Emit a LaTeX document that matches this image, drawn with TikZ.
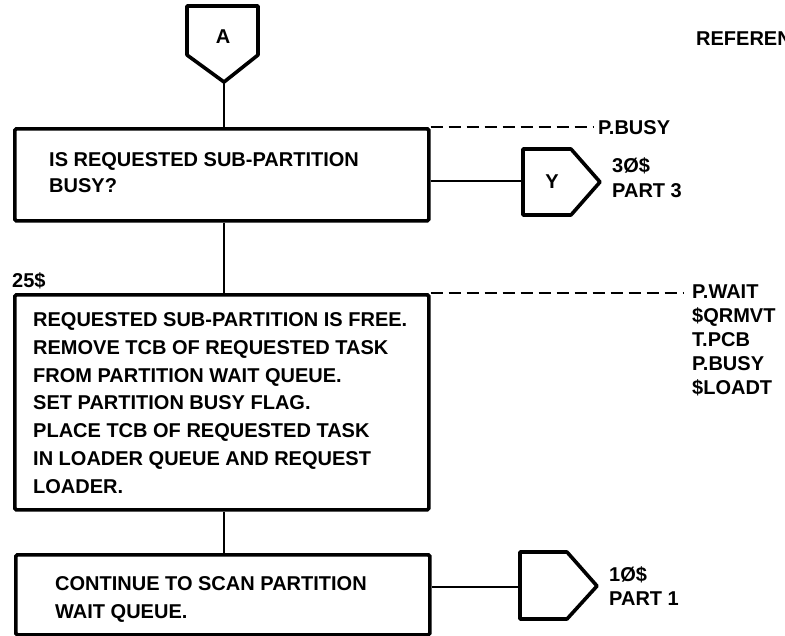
\documentclass[tikz,border=0pt]{standalone}
\usepackage{fontspec}
\setmainfont{Liberation Sans}
\begin{document}
\begin{tikzpicture}[x=1pt,y=-1pt]
\tikzset{
  procbox/.style={draw, line width=3.6pt, rounded corners=1.5pt, inner sep=0pt, anchor=north west},
  flow/.style={line width=2.6pt},
  refline/.style={line width=2.4pt, dash pattern=on 12pt off 6pt},
  offpage/.style={line width=3.6pt, line join=round},
  % multi-line texts are placed by the baseline of their last line
  txt/.style={font=\fontsize{20}{27.7}\selectfont\bfseries, inner sep=0pt, anchor=base west, align=left},
  reflist/.style={txt, font=\fontsize{20}{24}\selectfont\bfseries},
  letter/.style={font=\fontsize{20}{24}\selectfont\bfseries, inner sep=0pt}
}
\useasboundingbox (0,0) rectangle (785,635);
\clip (0,0) rectangle (785,635);

% heading at the top right
\node[txt] (refhead) at (696,45) {REFERENCES};

% off-page entry connector A
\coordinate (Atip) at (224,82);
\draw[offpage] (187,6) -- (258,6) -- (258,55) -- (Atip) -- (187,55) -- cycle;
\node[letter] (A) at (223,37) {A};

% process boxes
\node[procbox, minimum width=414pt, minimum height=92pt] (b1) at (13,127) {};
\node[procbox, minimum width=414pt, minimum height=215pt] (b2) at (13,293) {};
\node[procbox, minimum width=414pt, minimum height=80pt] (b3) at (14,553) {};

\node[txt, font=\fontsize{20}{26}\selectfont\bfseries] (t1) at (49,192) {IS REQUESTED SUB-PARTITION\\BUSY?};
\node[txt] (t2) at (33,493) {REQUESTED SUB-PARTITION IS FREE.\\REMOVE TCB OF REQUESTED TASK\\FROM PARTITION WAIT QUEUE.\\SET PARTITION BUSY FLAG.\\PLACE TCB OF REQUESTED TASK\\IN LOADER QUEUE AND REQUEST\\LOADER.};
\node[txt, font=\fontsize{20}{28}\selectfont\bfseries] (t3) at (55,618) {CONTINUE TO SCAN PARTITION\\WAIT QUEUE.};
\node[txt] (lab25) at (12,287) {25\$};

% main flow line
\draw[flow] (Atip) -- (Atip |- b1.north);
\draw[flow] (Atip |- b1.south) -- (Atip |- b2.north);
\draw[flow] (Atip |- b2.south) -- (Atip |- b3.north);

% exit connector Y
\coordinate (Yin) at (523,181);
\draw[offpage] (523,149) -- (571,149) -- (600,182) -- (571,215) -- (523,215) -- cycle;
\node[letter] (Y) at (552,182) {Y};
\draw[flow] (Yin -| b1.east) -- (Yin);
\node[txt, font=\fontsize{20}{25}\selectfont\bfseries] (lab30) at (612,197) {3Ø\$\\PART 3};

% exit connector to part 1
\coordinate (Cin) at (520,587);
\draw[offpage] (520,552) -- (567,552) -- (597,586) -- (567,619) -- (520,619) -- cycle;
\draw[flow] (Cin -| b3.east) -- (Cin);
\node[txt, font=\fontsize{20}{24}\selectfont\bfseries] (lab10) at (609,605) {1Ø\$\\PART 1};

% reference lists
\node[txt] (pbusy) at (598,134) {P.BUSY};
\draw[refline] (b1.north east) -- ([xshift=-5pt]b1.north east -| pbusy.west);
\coordinate (wref) at (683,293);
\draw[refline] (b2.north east) -- (wref);
\node[reflist] (refs) at (692,394) {P.WAIT\\\$QRMVT\\T.PCB\\P.BUSY\\\$LOADT};
\end{tikzpicture}
\end{document}
